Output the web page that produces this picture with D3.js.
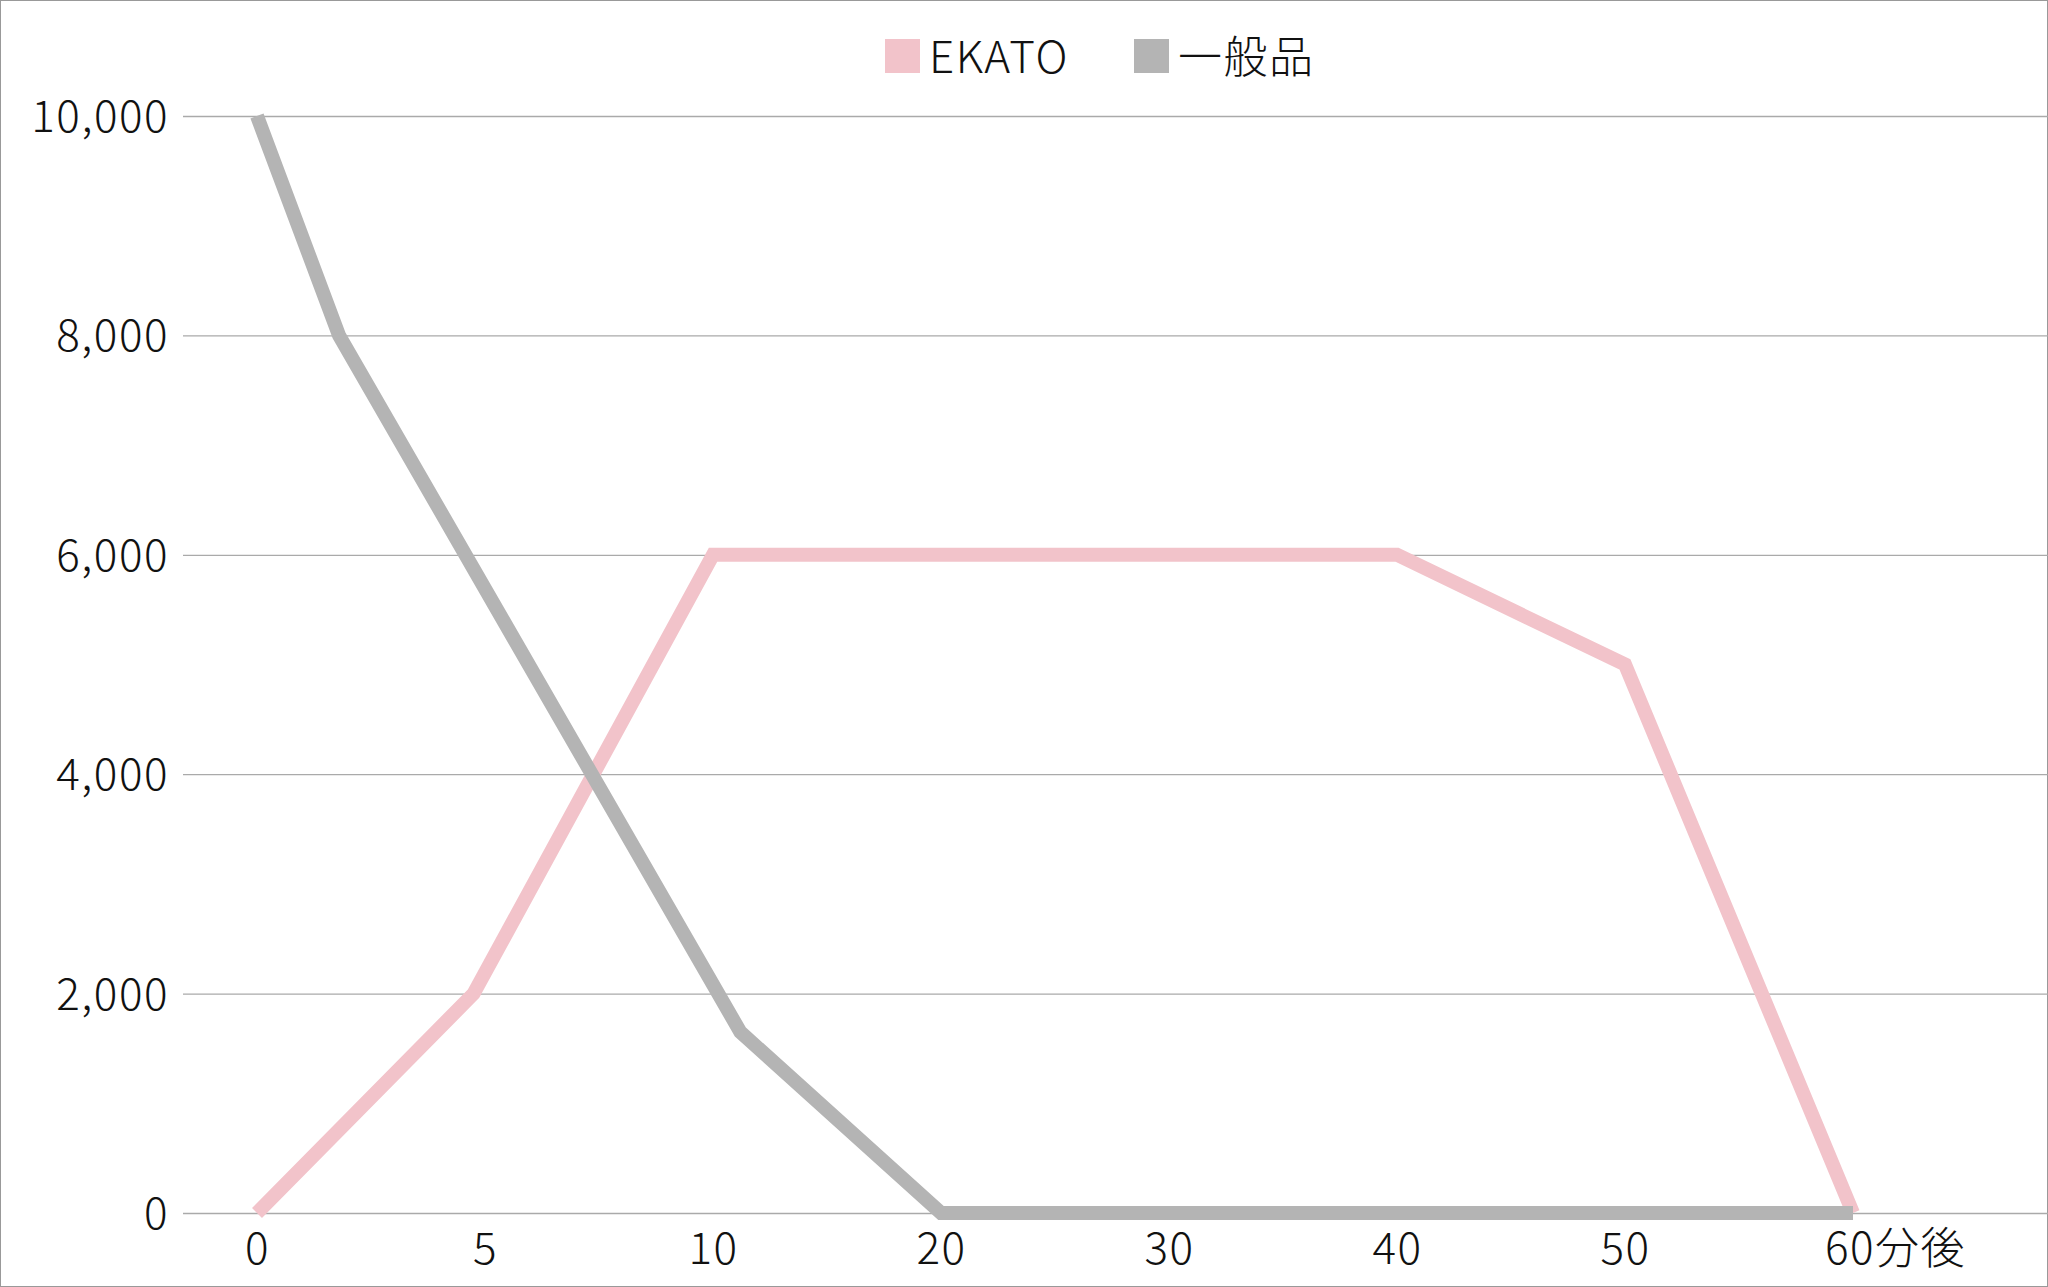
<!DOCTYPE html>
<html><head><meta charset="utf-8">
<script src="https://cdn.jsdelivr.net/npm/d3@7"></script>
<style>body{margin:0;background:#fff}svg{display:block}text{font-family:"Noto Sans CJK JP","Noto Sans",sans-serif;fill:#111;font-weight:300;letter-spacing:1.5px}</style>
</head><body><svg id="c" width="2048" height="1287"></svg>
<script>
const categories=["0","5","10","20","30","40","50","60分後"];
const ekatoX=[0,0.95,2,5,6,7];
const ekatoY=[0,2000,6000,6000,5000,0];
const ippanX=[0,0.36,2.12,3,4,5,6,7];
const ippanY=[10000,8000,1650,0,0,0,0,0];
const yTicks=[0,2000,4000,6000,8000,10000];
const svg=d3.select("#c");
svg.append("rect").attr("x",0.5).attr("y",0.5).attr("width",2047).attr("height",1286).attr("fill","none").attr("stroke","#999");
const x=d3.scaleLinear().domain([0,7]).range([257,1853]);
const y=d3.scaleLinear().domain([0,10000]).range([1213,116]);
const yAx=svg.append("g").attr("transform","translate(183,0)").call(d3.axisLeft(y).tickValues(yTicks).tickFormat(d3.format(",")).tickSize(-1865).tickPadding(14));
yAx.select(".domain").remove();
yAx.selectAll("line").attr("stroke","#aaa").attr("stroke-width",1.3);
yAx.selectAll("text").attr("font-size",44).attr("dy","0.35em");
const xAx=svg.append("g").attr("transform","translate(0,1213)").call(d3.axisBottom(x).tickValues(d3.range(8)).tickFormat(i=>categories[i]).tickSize(0).tickPadding(20));
xAx.select(".domain").remove();
xAx.selectAll("text").attr("font-size",44).attr("dy","0.71em")
  .attr("text-anchor",i=>i===7?"start":"middle").attr("dx",i=>i===7?"-0.65em":0);
const line=d3.line().x(d=>x(d[0])).y(d=>y(d[1]));
svg.append("path").datum(ekatoX.map((v,i)=>[v,ekatoY[i]])).attr("d",line).attr("fill","none").attr("stroke","#f2c3ca").attr("stroke-width",14);
svg.append("path").datum(ippanX.map((v,i)=>[v,ippanY[i]])).attr("d",line).attr("fill","none").attr("stroke","#b4b4b4").attr("stroke-width",14);
const leg=[["EKATO","#f2c3ca",885],["一般品","#b4b4b4",1134]];
leg.forEach(([t,c,lx])=>{
 svg.append("rect").attr("x",lx).attr("y",39).attr("width",35).attr("height",34).attr("fill",c);
 svg.append("text").attr("x",lx+44).attr("y",58).attr("dy","0.35em").attr("font-size",44).text(t);
});
</script></body></html>
